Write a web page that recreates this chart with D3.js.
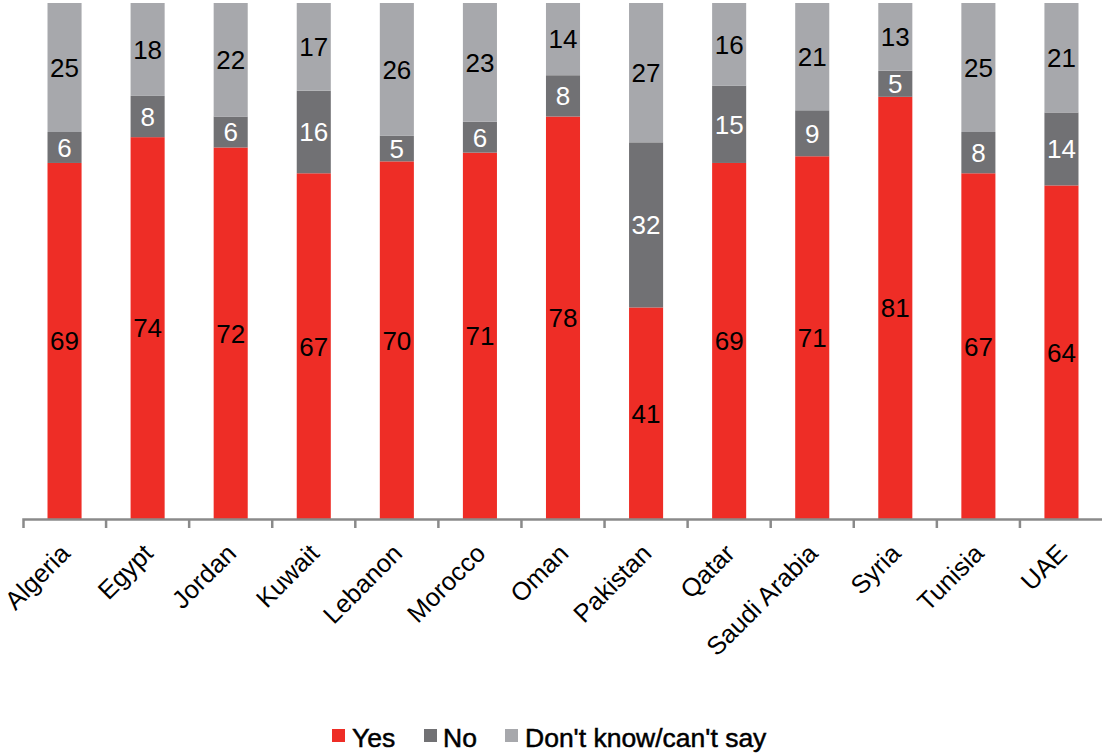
<!DOCTYPE html>
<html>
<head>
<meta charset="utf-8">
<script src="https://cdn.jsdelivr.net/npm/d3@7"></script>
<style>
  html, body { margin: 0; padding: 0; background: #fff; }
  svg { display: block; font-family: "Liberation Sans", Arial, sans-serif; }
</style>
</head>
<body>
<svg id="chart" width="1102" height="756"></svg>
<script>
const categories = ["Algeria", "Egypt", "Jordan", "Kuwait", "Lebanon", "Morocco", "Oman", "Pakistan", "Qatar", "Saudi Arabia", "Syria", "Tunisia", "UAE"];
const yes      = [69, 74, 72, 67, 70, 71, 78, 41, 69, 71, 81, 67, 64];
const no       = [6, 8, 6, 16, 5, 6, 8, 32, 15, 9, 5, 8, 14];
const dontKnow = [25, 18, 22, 17, 26, 23, 14, 27, 16, 21, 13, 25, 21];
const seriesNames = ["Yes", "No", "Don't know/can't say"];
const seriesKeys = ["yes", "no", "dk"];
const colors = ["#EE2D26", "#717174", "#A7A8AC"];
const labelColors = ["#000", "#fff", "#000"];

const rows = categories.map((c, i) => ({ cat: c, yes: yes[i], no: no[i], dk: dontKnow[i] }));

const svg = d3.select("#chart");
const x = d3.scaleBand().domain(categories).range([23, 1103]).paddingInner(0.59).paddingOuter(0.295);
const y = d3.scaleLinear().domain([0, 1]).range([519, 3]);

const stack = d3.stack().keys(seriesKeys).offset(d3.stackOffsetExpand);
const stacked = stack(rows);

const groups = svg.selectAll("g.series").data(stacked).join("g").attr("class", "series")
  .attr("fill", (d, i) => colors[i]);

groups.selectAll("rect").data(d => d).join("rect")
  .attr("x", d => x(d.data.cat))
  .attr("width", x.bandwidth())
  .attr("y", d => y(d[1]))
  .attr("height", d => y(d[0]) - y(d[1]));

const fs = 26;
groups.each(function(s, si) {
  d3.select(this).selectAll("text").data(s).join("text")
    .attr("x", d => x(d.data.cat) + x.bandwidth() / 2)
    .attr("y", d => (y(d[0]) + y(d[1])) / 2 + fs * 0.36)
    .attr("text-anchor", "middle")
    .attr("font-size", fs)
    .attr("fill", labelColors[si])
    .text(d => d.data[s.key]);
});

// axis
const axisG = svg.append("g").attr("transform", "translate(0,519)")
  .call(d3.axisBottom(x).tickSize(0).tickSizeOuter(9).tickFormat(""));
axisG.select(".domain").attr("stroke", "#8a8a8a").attr("stroke-width", 2.5);
const gap = (x.step() - x.bandwidth()) / 2;
axisG.selectAll("line.bound").data(categories.slice(1)).join("line").attr("class", "bound")
  .attr("x1", d => x(d) - gap).attr("x2", d => x(d) - gap)
  .attr("y1", 0).attr("y2", 9)
  .attr("stroke", "#8a8a8a").attr("stroke-width", 2.5);

svg.append("g").selectAll("text").data(categories).join("text")
  .attr("transform", d => `translate(${x(d) + x.bandwidth() / 2 + 7},555) rotate(-45)`)
  .attr("text-anchor", "end")
  .attr("font-size", 25.5)
  .attr("fill", "#000")
  .text(d => d);

// legend
const legendItems = [
  { sx: 332, tx: 352 },
  { sx: 424, tx: 443 },
  { sx: 505, tx: 525 }
];
const lg = svg.append("g");
lg.selectAll("rect").data(seriesNames).join("rect")
  .attr("x", (d, i) => legendItems[i].sx).attr("y", 729)
  .attr("width", 13).attr("height", 13)
  .attr("fill", (d, i) => colors[i]);
lg.selectAll("text").data(seriesNames).join("text")
  .attr("x", (d, i) => legendItems[i].tx).attr("y", 747)
  .attr("font-size", 26.5)
  .attr("fill", "#000")
  .attr("stroke", "#000")
  .attr("stroke-width", 0.5)
  .text(d => d);
</script>
</body>
</html>
